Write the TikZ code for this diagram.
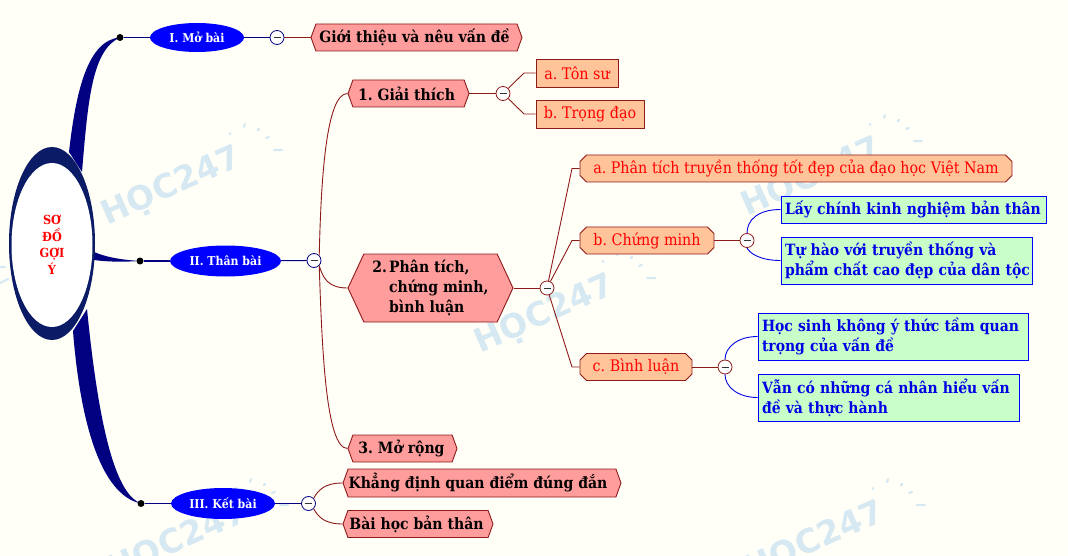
\documentclass[tikz,border=0pt]{standalone}
\usepackage{fontspec}
\setmainfont{DejaVu Serif Condensed}
\newfontfamily\wmfont{DejaVu Sans}
\frenchspacing
\usetikzlibrary{shapes.geometric,shapes.symbols,shapes.misc,backgrounds}
\definecolor{pagebg}{HTML}{FFFFF8}
\definecolor{navy}{HTML}{000080}
\definecolor{rootnavy}{HTML}{0B1B66}
\definecolor{brn}{HTML}{8E1A1A}
\definecolor{hexfill}{HTML}{FF9C9C}
\definecolor{orfill}{HTML}{FFC499}
\definecolor{grfill}{HTML}{C8FFC8}
\definecolor{bluetxt}{HTML}{0000E6}
\definecolor{wmark}{HTML}{D6E8F2}
\tikzset{
  x=1pt,y=-1pt,
  branchfill/.style={fill=navy,draw=none},
  rootnode/.style={ellipse,fill=white,inner sep=0pt,minimum width=81,minimum height=164,align=center,text=red,font=\fontsize{12.5}{16.5}\selectfont\bfseries},
  rootouter/.style={ellipse,fill=rootnavy,inner sep=0pt,minimum width=86,minimum height=193},
  dotnode/.style={circle,fill=black,inner sep=0pt,minimum size=7},
  mainnode/.style={ellipse,fill=blue,inner sep=0pt,text=white,font=\fontsize{12.2}{15}\selectfont\bfseries},
  collapse/.style={circle,draw=#1,fill=white,line width=.8pt,inner sep=0pt,minimum size=14,
    path picture={\draw[black!80,line width=.9pt] ([xshift=-3.5pt]path picture bounding box.center)--([xshift=3.5pt]path picture bounding box.center);}},
  hexn/.style={signal,signal to=east and west,draw=brn,fill=hexfill,line width=.9pt,inner sep=0pt,font=\fontsize{15.6}{20}\selectfont\bfseries,text=black},
  octn/.style={chamfered rectangle,chamfered rectangle angle=45,chamfered rectangle xsep=3pt,draw=brn,fill=orfill,line width=.9pt,inner sep=0pt,text=red,font=\fontsize{15.9}{18}\selectfont},
  rectn/.style={rectangle,draw=brn,fill=orfill,line width=.9pt,inner sep=0pt,text=red,font=\fontsize{15.9}{18}\selectfont},
  greenn/.style={rectangle,draw=blue,fill=grfill,line width=.9pt,inner sep=4pt,align=left,text=bluetxt,font=\fontsize{15.5}{20}\selectfont\bfseries},
  navyline/.style={draw=navy,line width=1.1pt},
  brnline/.style={draw=brn,line width=.9pt},
  blueline/.style={draw=blue!90!black,line width=.9pt},
  wmtext/.style={text=wmark,rotate=24,font=\wmfont\fontsize{33}{33}\selectfont\bfseries,inner sep=0pt},
  wmray/.style={draw=wmark,line width=2.2pt,line cap=round},
}
\newcommand{\wmark}[2]{%
  \node[wmtext] at (#1,#2) {HỌC247};
  \draw[wmray,shift={(#1,#2)}] (72,-60)--(73,-63) (102,-37)--(110,-37) (58,-53)--(58,-54) (86,-57)--(87,-58) (94,-49)--(97,-50);
}
\begin{document}
\begin{tikzpicture}
\useasboundingbox (0,0) rectangle (1068,556);
% central topic
\node[rootouter] (rootO) at (52,243.5) {};
\node[rootnode] (root) at (52,245) {SƠ\\ĐỒ\\GỢI\\Ý};
% main topics
\node[dotnode] (d1) at (120,37.5) {};
\node[dotnode] (d2) at (140,261) {};
\node[dotnode] (d3) at (141,503.5) {};
\node[mainnode,minimum width=94,minimum height=29] (m1) at (197,37.5) {I. Mở bài};
\node[mainnode,minimum width=111,minimum height=31] (m2) at (225.5,261) {II. Thân bài};
\node[mainnode,minimum width=104,minimum height=31] (m3) at (223,503.5) {III. Kết bài};
\node[collapse=navy] (c1) at (277,37.5) {};
\node[collapse=navy] (c2) at (314,260.5) {};
\node[collapse=navy] (c3) at (308.5,503.5) {};
% second level
\node[hexn,signal pointer angle=140,minimum width=211,minimum height=27] (g) at (416.5,37.5) {Giới thiệu và nêu vấn đề\hspace*{4pt}};
\node[hexn,signal pointer angle=140,minimum width=121,minimum height=27] (s1) at (408.5,93.5) {1. Giải thích\hspace*{4pt}};
\node[hexn,signal pointer angle=130,minimum width=165,minimum height=68,align=left] (s2) at (430.5,288) {\makebox[16.7pt][l]{2.}Phân tích,\\\hspace*{16.7pt}chứng minh,\\\hspace*{16.7pt}bình luận\hspace*{4pt}};
\node[hexn,signal pointer angle=140,minimum width=109,minimum height=27] (s3) at (402.5,448.5) {3. Mở rộng\hspace*{2pt}};
\node[hexn,signal pointer angle=140,minimum width=278,minimum height=28] (k) at (482,483) {Khẳng định quan điểm đúng đắn\hspace*{8pt}};
\node[hexn,signal pointer angle=140,minimum width=150,minimum height=27] (b) at (418,524) {Bài học bản thân\hspace*{3pt}};
% third level
\node[collapse=brn] (c4) at (503,93.5) {};
\node[collapse=brn] (c5) at (547,288) {};
\node[collapse=brn] (c6) at (747,240.5) {};
\node[collapse=brn] (c7) at (725,367) {};
\node[rectn,minimum width=82,minimum height=28] (t1) at (577,73) {a. Tôn sư};
\node[rectn,minimum width=108,minimum height=28] (t2) at (590,114) {b. Trọng đạo};
\node[octn,minimum width=432,minimum height=27] (p1) at (796,168.5) {a. Phân tích truyền thống tốt đẹp của đạo học Việt Nam};
\node[octn,minimum width=134,minimum height=27] (p2) at (647,240.5) {b. Chứng minh};
\node[octn,minimum width=112,minimum height=27] (p3) at (636,367) {c. Bình luận};
% leaves
\node[greenn,text width=257,minimum height=27] (l1) at (913.5,209.5) {Lấy chính kinh nghiệm bản thân};
\node[greenn,text width=243,minimum height=47] (l2) at (906.5,260.5) {Tự hào với truyền thống và\\\mbox{phẩm chất cao đẹp của dân tộc}};
\node[greenn,text width=262,minimum height=47] (l3) at (893,336.5) {Học sinh không ý thức tầm quan\\trọng của vấn đề};
\node[greenn,text width=253,minimum height=47] (l4) at (888.5,397.5) {Vẫn có những cá nhân hiểu vấn\\đề và thực hành};
% connectors
\draw[navyline] (d1) -- (m1);
\draw[navyline] (d2) -- (m2);
\draw[navyline] (d3) -- (m3);
\draw[navyline] (m1) -- (c1);
\draw[navyline] (m2) -- (c2);
\draw[navyline] (m3) -- (c3);
\draw[brnline] (c1) -- (g.west);
\draw[brnline] (c2.north east) .. controls (321,180) and (326,93.5) .. (s1.west);
\draw[brnline] (c2.south east) .. controls (323,278) and (328,288) .. (s2.west);
\draw[brnline] (c2.south east) .. controls (322,350) and (326,448.5) .. (s3.west);
\draw[brnline] (c3.north east) .. controls (318,490) and (325,483) .. (k.west);
\draw[brnline] (c3.south east) .. controls (318,517) and (325,524) .. (b.west);
\draw[brnline] (s1.east) -- (c4);
\coordinate (j1) at (524,73);
\coordinate (j2) at (524,114);
\draw[brnline] (c4) -- (j1) -- (t1.west);
\draw[brnline] (c4) -- (j2) -- (t2.west);
\draw[brnline] (s2.east) -- (c5);
\coordinate (j3) at (572,168.5);
\coordinate (j4) at (572,240.5);
\coordinate (j5) at (572,367);
\draw[brnline] (c5) -- (j3) -- (p1.west);
\draw[brnline] (c5) -- (j4) -- (p2.west);
\draw[brnline] (c5) -- (j5) -- (p3.west);
\draw[brnline] (p2.east) -- (c6);
\draw[brnline] (p3.east) -- (c7);
\draw[blueline] (c6.north) .. controls (747,220) and (758,209.5) .. (l1.west);
\draw[blueline] (c6.south) .. controls (749,252) and (758,260.5) .. (l2.west);
\draw[blueline] (c7.north) .. controls (725,347) and (738,336.5) .. (l3.west);
\draw[blueline] (c7.south) .. controls (725,387) and (738,397.5) .. (l4.west);
% background layer
\begin{pgfonlayer}{background}
\fill[pagebg] (0,0) rectangle (1068,556);
\wmark{172}{187}
\wmark{545}{315}
\wmark{812}{178}
\wmark{178}{542}
\wmark{815}{542}
\draw[wmray] (0,267)--(5,267) (0,283)--(8,279);
\path[branchfill] (69,152) .. controls (76,90) and (88,40) .. (d1.center)
  .. controls (92,50) and (88,100) .. (82,172) -- cycle;
\path[branchfill] (94,252) .. controls (108,258) and (125,260) .. (d2.center)
  .. controls (125,262) and (108,262) .. (94,260) -- cycle;
\path[branchfill] (73,331) .. controls (80,420) and (100,495) .. (d3.center)
  .. controls (118,495) and (100,440) .. (87,309) -- cycle;
\end{pgfonlayer}
\end{tikzpicture}
\end{document}
